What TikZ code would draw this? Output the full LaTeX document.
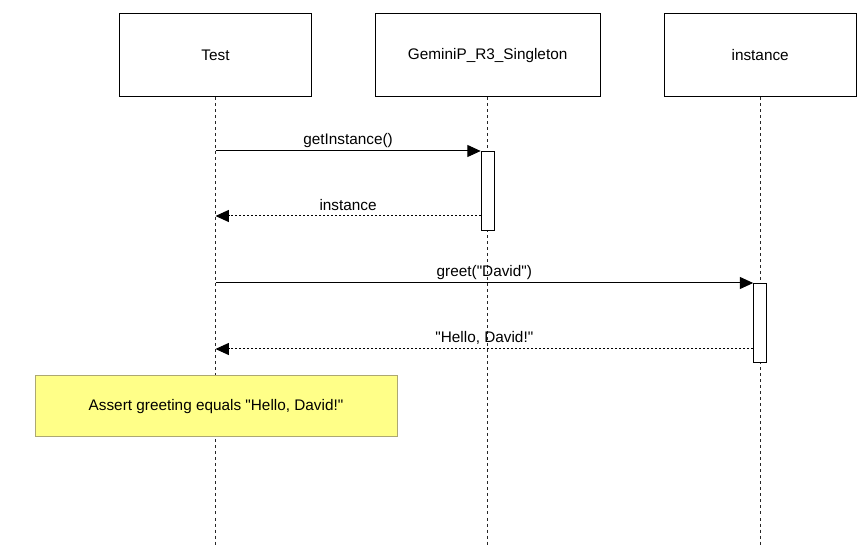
\documentclass[tikz,border=0pt]{standalone}
\usepackage{fontspec}
\setmainfont{Liberation Sans}
\usetikzlibrary{arrows.meta, positioning}

\definecolor{notefill}{HTML}{FFFF88}
\definecolor{noteline}{HTML}{ADA872}

\begin{document}
\begin{tikzpicture}[
        x=0.75pt, y=-0.75pt,
        every node/.style={font=\fontsize{11.5}{14}\selectfont},
        head/.style={
            rectangle, draw=black, fill=white, line width=0.75pt,
            minimum width=143.5pt, minimum height=62.25pt
        },
        act/.style={
            rectangle, draw=black, fill=white, line width=0.75pt, inner sep=0pt,
            minimum width=9.75pt, minimum height=59.25pt, anchor=north
        },
        note/.style={
            rectangle, draw=noteline, fill=notefill, line width=0.75pt,
            minimum width=271.5pt, minimum height=45.75pt
        },
        lbl/.style={midway, yshift=8pt, inner sep=0pt},
        life/.style={draw=black!85, line width=0.75pt, dash pattern=on 2.25pt off 2.25pt},
        msg/.style={-{Triangle[length=10pt, width=9pt]}, line width=0.75pt},
        ret/.style={msg, dash pattern=on 1.5pt off 1.5pt}
    ]
        \useasboundingbox (0,0) rectangle (864,559);

        % Participants
        \node[head] (tst) at (215.5,55.5) {Test};
        \node[head, minimum width=168.75pt, right=47.25pt of tst] (sng) {GeminiP\_R3\_Singleton};
        \node[head, minimum width=144pt, right=47.25pt of sng] (ins) {instance};

        % Lifelines
        \coordinate (tstend) at (tst.south |- 0,545);
        \coordinate (sngend) at (sng.south |- 0,545);
        \coordinate (insend) at (ins.south |- 0,545);
        \draw[life] (tst.south) -- (tstend);
        \draw[life] (sng.south) -- (sngend);
        \draw[life] (ins.south) -- (insend);

        % Activations
        \node[act] (act1) at (sng.south |- 0,151) {};
        \node[act] (act2) at (ins.south |- 0,283) {};

        % Messages
        \draw[msg] (tst.south |- act1.north) -- node[lbl] {getInstance()} (act1.north west);
        \draw[ret] (act1.west |- 0,216) -- node[lbl] {instance} (tst.south |- 0,216);
        \draw[msg] (tst.south |- act2.north) -- node[lbl] {greet(\textquotedbl David\textquotedbl)} (act2.north west);
        \draw[ret] (act2.west |- 0,349) -- node[lbl] {\textquotedbl Hello, David!\textquotedbl} (tst.south |- 0,349);

        % Note
        \node[note] (nte) at (216,406.5) {Assert greeting equals \textquotedbl Hello, David!\textquotedbl};

\end{tikzpicture}
\end{document}
